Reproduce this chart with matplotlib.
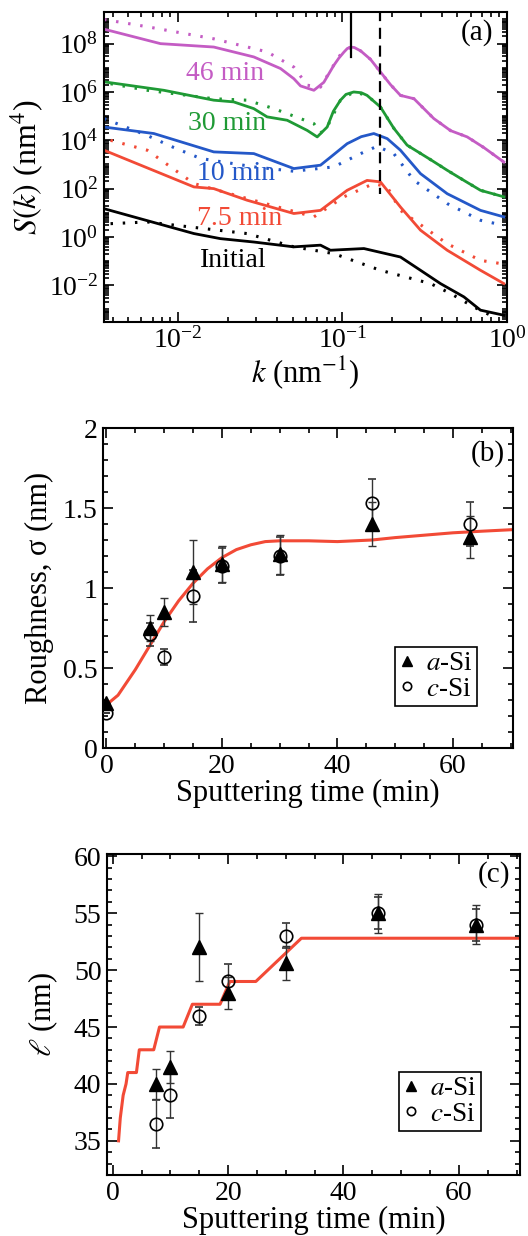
import numpy as np
import matplotlib
matplotlib.use('Agg')
import matplotlib.pyplot as plt
from matplotlib.lines import Line2D
from matplotlib.ticker import LogLocator, MultipleLocator, NullFormatter

plt.rcParams['font.family'] = ['Liberation Serif', 'DejaVu Serif']
plt.rcParams['mathtext.fontset'] = 'stix'
plt.rcParams['font.size'] = 20
plt.rcParams['axes.linewidth'] = 1.5

# ── Panel (a): S(k) spectra, S stored as log10 values ───────
k46 = [0.00355, 0.00783, 0.0165, 0.0289, 0.042, 0.0506, 0.0556, 0.067, 0.077, 0.0885,
       0.095, 0.102, 0.107, 0.112, 0.118, 0.129, 0.148, 0.170, 0.196, 0.225, 0.272,
       0.359, 0.454, 0.573, 0.723, 0.957]
s46 = [8.6, 8.0, 7.86, 7.45, 6.97, 6.55, 6.25, 6.07, 6.4, 7.1,
       7.4, 7.65, 7.8, 7.86, 7.84, 7.7, 7.35, 6.83, 6.3, 5.86, 5.72,
       4.9, 4.4, 4.14, 3.7, 3.1]
k46d = [0.00355, 0.0065, 0.0165, 0.0348, 0.0506, 0.061, 0.0735, 0.0845, 0.0972,
        0.112, 0.129, 0.148, 0.170, 0.196, 0.225, 0.272, 0.359, 0.454, 0.573, 0.723, 0.957]
s46d = [9.0, 8.7, 8.2, 7.66, 7.03, 6.28, 6.2, 6.9, 7.55,
        7.86, 7.7, 7.35, 6.83, 6.3, 5.86, 5.72, 4.9, 4.4, 4.14, 3.7, 3.1]

k30 = [0.00355, 0.0082, 0.0165, 0.0218, 0.0289, 0.0348, 0.0461, 0.061, 0.0702, 0.0807,
       0.088, 0.0972, 0.105, 0.117, 0.130, 0.141, 0.170, 0.205, 0.247, 0.343, 0.433,
       0.547, 0.690, 0.957]
s30 = [6.42, 6.07, 5.66, 5.59, 5.31, 4.97, 4.83, 4.41, 4.14, 4.55,
       5.2, 5.66, 5.9, 6.0, 5.97, 5.86, 5.38, 4.5, 3.8, 3.2, 2.76,
       2.34, 1.93, 1.66]
k30d = [0.00389, 0.0065, 0.0165, 0.0263, 0.0383, 0.067, 0.0735, 0.0807,
        0.0972, 0.117, 0.141, 0.170, 0.205, 0.247, 0.343, 0.433, 0.547, 0.690, 0.957]
s30d = [6.34, 6.07, 5.72, 5.66, 5.31, 4.69, 4.3, 4.55,
        5.66, 6.0, 5.86, 5.38, 4.5, 3.8, 3.2, 2.76, 2.34, 1.93, 1.66]

k10 = [0.00355, 0.00713, 0.0165, 0.0289, 0.0506, 0.0735, 0.0845, 0.1067, 0.130, 0.155,
       0.187, 0.225, 0.298, 0.433, 0.690, 0.957]
s10 = [4.55, 4.28, 3.52, 3.45, 2.83, 2.97, 3.3, 3.86, 4.15, 4.28,
       4.07, 3.59, 2.62, 1.79, 1.10, 0.83]
k10d = [0.00355, 0.0065, 0.00944, 0.0137, 0.0289, 0.0506, 0.0885, 0.129, 0.162, 0.205,
        0.272, 0.433, 0.690, 0.957]
s10d = [4.9, 4.2, 3.7, 3.25, 2.9, 2.72, 2.9, 3.45, 3.75, 3.45,
        2.34, 1.38, 0.69, 0.48]

k75 = [0.00355, 0.0125, 0.0165, 0.0263, 0.0506, 0.0735, 0.1067, 0.141, 0.170, 0.225,
       0.298, 0.433, 0.690, 0.957]
s75 = [3.59, 2.07, 2.0, 1.52, 0.97, 1.10, 1.93, 2.34, 2.28, 1.24,
       0.28, -0.55, -1.38, -1.93]
k75d = [0.00389, 0.0065, 0.0125, 0.0263, 0.067, 0.1019, 0.155, 0.187, 0.225, 0.433,
        0.690, 0.912]
s75d = [4.0, 3.59, 2.21, 1.59, 0.83, 1.66, 2.21, 2.07, 1.10, -0.28,
        -0.97, -1.10]

k0 = [0.00355, 0.0125, 0.0181, 0.0289, 0.0506, 0.0735, 0.0845, 0.135, 0.225, 0.298,
      0.394, 0.547, 0.690, 0.957]
s0 = [1.17, 0.14, -0.07, -0.21, -0.41, -0.34, -0.55, -0.48, -0.83, -1.38,
      -1.93, -2.48, -3.03, -3.24]
k0d = [0.00389, 0.0065, 0.0263, 0.0506, 0.0885, 0.170, 0.343, 0.454, 0.629, 0.832]
s0d = [0.55, 0.62, 0.14, -0.41, -0.69, -1.38, -1.93, -2.34, -2.90, -3.31]

spectra = [
    ("46 min", "#c45cc4", k46, s46, k46d, s46d, 0.0192, 6.76),
    ("30 min", "#1f9a35", k30, s30, k30d, s30d, 0.0199, 4.69),
    ("10 min", "#2458c8", k10, s10, k10d, s10d, 0.0224, 2.62),
    ("7.5 min", "#f24a36", k75, s75, k75d, s75d, 0.0237, 0.76),
    ("Initial", "black", k0, s0, k0d, s0d, 0.0218, -0.97),
]

k_peak_a = 0.113
k_peak_b = 0.170

# ── Panel (b): roughness ────────────────────────────────────
t_pts = [0, 7.5, 10, 15, 20, 30, 46, 63]
sig_a = [0.28, 0.75, 0.85, 1.10, 1.15, 1.21, 1.40, 1.32]
sig_a_err = [0.0, 0.08, 0.09, 0.20, 0.11, 0.12, 0.14, 0.13]
sig_c = [0.22, 0.71, 0.57, 0.95, 1.14, 1.20, 1.53, 1.40]
sig_c_err = [0.0, 0.07, 0.05, 0.16, 0.11, 0.12, 0.15, 0.14]
t_fit_b = [0, 2, 5, 7.5, 10, 12.5, 15, 17.5, 20, 22.5, 25, 27.5, 30, 35, 40, 46, 50, 55, 60, 65, 70.5]
sig_fit = [0.27, 0.33, 0.49, 0.64, 0.79, 0.92, 1.03, 1.12, 1.19, 1.24, 1.27, 1.29, 1.295, 1.295,
           1.29, 1.30, 1.315, 1.33, 1.345, 1.355, 1.365]

# ── Panel (c): correlation length ───────────────────────────
t_pts_c = [7.5, 10, 15, 20, 30, 46, 63]
ell_a = [40.0, 41.5, 52.0, 48.0, 50.6, 55.0, 54.0]
ell_a_err = [1.3, 1.4, 3.0, 1.4, 1.5, 1.7, 1.7]
ell_c = [36.5, 39.0, 46.0, 49.0, 53.0, 55.0, 54.0]
ell_c_err = [2.1, 2.0, 0.8, 1.5, 1.1, 1.4, 1.4]
t_fit_c = [1.0, 1.3, 1.8, 2.3, 2.6, 4.1, 4.6, 7.1, 8.1, 12.2, 13.8, 18.6, 20.3, 24.8, 32.7, 70.5]
ell_fit = [35.0, 37.0, 39.0, 40.0, 41.0, 41.0, 43.0, 43.0, 45.0, 45.0, 47.0, 47.0, 49.0, 49.0, 52.8, 52.8]

RED = "#f24a36"
W, H = 528, 1236
fig = plt.figure(figsize=(W / 100, H / 100), dpi=100)


def px_axes(left, top, right, bottom):
    return fig.add_axes([left / W, 1 - bottom / H, (right - left) / W, (bottom - top) / H])


def style_ticks(ax):
    ax.tick_params(which='both', direction='in', top=True, right=True, width=1.2, labelsize=20)
    ax.tick_params(which='major', length=7, pad=4)
    ax.tick_params(which='minor', length=3.5)


def add_legend(ax, anchor):
    handles = [Line2D([], [], ls='none', marker='^', color='black', ms=7),
               Line2D([], [], ls='none', marker='o', color='black', mfc='none', ms=6, mew=1.2)]
    leg = ax.legend(handles, [r'$a$-Si', r'$c$-Si'], loc='lower right', bbox_to_anchor=anchor,
                    fontsize=19.5, frameon=True, fancybox=False, edgecolor='black',
                    handlelength=0.6, handletextpad=0.4, borderpad=0.15, labelspacing=0.02,
                    borderaxespad=0, framealpha=1)
    leg.get_frame().set_linewidth(1.2)


# ── (a) ─────────────────────────────────────────────────────
ax = px_axes(104, 12, 507, 322)
for name, col, kk, ss, kd, sd, tx, ty in spectra:
    ax.plot(kk, 10 ** np.array(ss), color=col, lw=2)
    ax.plot(kd, 10 ** np.array(sd), color=col, lw=2.2, ls=(0, (0.8, 3.2)))
    ax.text(tx, 10 ** ty, name, color=col, fontsize=20, ha='center', va='center')
ax.plot([k_peak_a, k_peak_a], [10 ** 9.4, 10 ** 7.45], color='black', lw=1.6)
ax.plot([k_peak_b, k_peak_b], [10 ** 9.4, 10 ** 1.79], color='black', lw=1.6, ls=(0, (5, 3)))
ax.set_xscale('log')
ax.set_yscale('log')
ax.set_xlim(0.00355, 1.0)
ax.set_ylim(10 ** -3.52, 10 ** 9.31)
ax.yaxis.set_major_locator(LogLocator(base=100, numticks=20))
ax.yaxis.set_minor_locator(LogLocator(base=10, subs=np.arange(1, 10), numticks=100))
ax.yaxis.set_minor_formatter(NullFormatter())
ax.xaxis.set_minor_locator(LogLocator(base=10, subs=np.arange(2, 10), numticks=100))
ax.xaxis.set_minor_formatter(NullFormatter())
style_ticks(ax)
ax.set_xlabel(r'$k$ (nm$^{-1}$)', fontsize=22, labelpad=0)
ax.set_ylabel(r'$S(k)$ (nm$^{4}$)', fontsize=23, labelpad=2)
ax.text(0.659, 10 ** 8.48, '(a)', fontsize=21, ha='center', va='center')

# ── (b) ─────────────────────────────────────────────────────
ax = px_axes(103, 428, 513, 748)
ax.plot(t_fit_b, sig_fit, color=RED, lw=2.2, zorder=1)
ax.errorbar(t_pts, sig_a, yerr=sig_a_err, fmt='^', color='black', ms=10, capsize=3,
            elinewidth=1, ecolor='#333333', zorder=3)
ax.errorbar(t_pts, sig_c, yerr=sig_c_err, fmt='o', color='black', mfc='none', ms=9, mew=1.2,
            capsize=3, elinewidth=1, ecolor='#333333', zorder=3)
ax.set_xlim(-0.6, 70.4)
ax.set_ylim(0, 2)
ax.xaxis.set_major_locator(MultipleLocator(20))
ax.xaxis.set_minor_locator(MultipleLocator(5))
ax.yaxis.set_minor_locator(MultipleLocator(0.1))
ax.set_yticks([0, 0.5, 1, 1.5, 2])
ax.set_yticklabels(['0', '0.5', '1', '1.5', '2'])
style_ticks(ax)
ax.set_xlabel('Sputtering time (min)', fontsize=22, labelpad=0)
ax.set_ylabel('Roughness, σ (nm)', fontsize=22, labelpad=6)
ax.text(66.1, 1.84, '(b)', fontsize=21, ha='center', va='center')
add_legend(ax, (0.911, 0.132))

# ── (c) ─────────────────────────────────────────────────────
ax = px_axes(107, 854, 520, 1175)
ax.plot(t_fit_c, ell_fit, color=RED, lw=2.2, zorder=1)
ax.errorbar(t_pts_c, ell_a, yerr=ell_a_err, fmt='^', color='black', ms=10, capsize=3,
            elinewidth=1, ecolor='#333333', zorder=3)
ax.errorbar(t_pts_c, ell_c, yerr=ell_c_err, fmt='o', color='black', mfc='none', ms=9, mew=1.2,
            capsize=3, elinewidth=1, ecolor='#333333', zorder=3)
ax.set_xlim(-1.0, 70.6)
ax.set_ylim(32, 60.2)
ax.xaxis.set_major_locator(MultipleLocator(20))
ax.xaxis.set_minor_locator(MultipleLocator(5))
ax.yaxis.set_major_locator(MultipleLocator(5))
ax.yaxis.set_minor_locator(MultipleLocator(1))
style_ticks(ax)
ax.set_xlabel('Sputtering time (min)', fontsize=22, labelpad=0)
ax.set_ylabel(r'$\ell$ (nm)', fontsize=22, labelpad=10)
ax.text(66.1, 58.4, '(c)', fontsize=21, ha='center', va='center')
add_legend(ax, (0.905, 0.138))

plt.savefig('out.png', dpi=100)
plt.close()
print("Saved: out.png")
